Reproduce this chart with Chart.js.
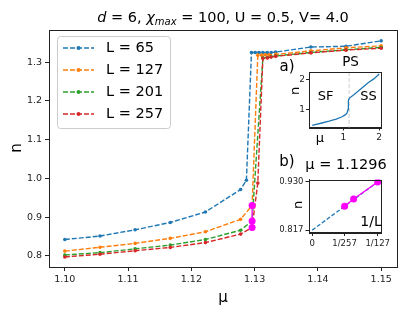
<!DOCTYPE html>
<html>
<head>
<meta charset="utf-8">
<script src="https://cdn.jsdelivr.net/npm/chart.js@4.4.0/dist/chart.umd.min.js"></script>
<style>
  body { margin: 0; background: #fff; }
  #wrap { position: relative; width: 407px; height: 312px; }
  canvas { position: absolute; }
</style>
</head>
<body>
<div id="wrap">
  <canvas id="mainChart" width="407" height="312" style="left:0;top:0"></canvas>
  <canvas id="insetA" width="115" height="90" style="left:280px;top:60px"></canvas>
  <canvas id="insetB" width="115" height="80" style="left:280px;top:170px"></canvas>
</div>
<script>
const FONT = "'DejaVu Sans', sans-serif";
const INK = "#222222";

// main panel: n(mu) for each system size
const mu65 = [1.1, 1.10556, 1.11111, 1.11667, 1.12222, 1.12778, 1.1287, 1.1295, 1.1301, 1.1307, 1.1313, 1.1320, 1.1326, 1.13333, 1.13889, 1.14444, 1.15];
const n65 = [0.842, 0.851, 0.867, 0.886, 0.913, 0.971, 0.995, 1.325, 1.325, 1.325, 1.325, 1.325, 1.325, 1.326, 1.339, 1.341, 1.355];

const mu127 = [1.1, 1.10556, 1.11111, 1.11667, 1.12222, 1.12778, 1.1296, 1.1305, 1.1311, 1.1317, 1.1323, 1.13333, 1.13889, 1.14444, 1.15];
const n127 = [0.812, 0.822, 0.832, 0.845, 0.862, 0.894, 0.930, 1.318, 1.318, 1.319, 1.319, 1.320, 1.329, 1.337, 1.342];

const mu201 = [1.1, 1.10556, 1.11111, 1.11667, 1.12222, 1.12778, 1.1296, 1.1313, 1.1320, 1.1326, 1.13333, 1.13889, 1.14444, 1.15];
const n201 = [0.802, 0.808, 0.818, 0.8275, 0.842, 0.866, 0.890, 1.311, 1.312, 1.314, 1.316, 1.325, 1.332, 1.338];

const mu257 = [1.1, 1.10556, 1.11111, 1.11667, 1.12222, 1.12778, 1.1296, 1.1305, 1.1313, 1.1320, 1.1326, 1.13333, 1.13889, 1.14444, 1.15];
const n257 = [0.797, 0.804, 0.813, 0.8216, 0.834, 0.856, 0.873, 0.988, 1.310, 1.311, 1.313, 1.315, 1.324, 1.331, 1.336];

// points used for the extrapolation (L = 257, 201, 127)
const muPeak = [1.1296, 1.1296, 1.1296];
const nPeak = [0.873, 0.890, 0.930];
const invL = [1 / 257, 1 / 201, 1 / 127];

const muTicks = [1.10, 1.11, 1.12, 1.13, 1.14, 1.15];
const nTicks = [0.8, 0.9, 1.0, 1.1, 1.2, 1.3];

// inset a) overall curve
const muPhase = [0.13, 0.4, 0.6, 0.8, 0.95, 1.05, 1.1, 1.13, 1.14, 1.17, 1.3, 1.5, 1.7, 1.85, 2.0];
const nPhase = [0.47, 0.55, 0.61, 0.68, 0.75, 0.82, 0.88, 1.0, 1.3, 1.38, 1.5, 1.7, 1.9, 2.02, 2.18];
const muPS = 1.16;

// inset b) 1/L fit
const fitX = [0, 1 / 127];
const fitN = [0.817, 0.930];
const invLTicks = [0, 1 / 257, 1 / 127];
const invLLabels = ["0", "1/257", "1/127"];
const nFitTicks = [0.817, 0.930];

const series = [
  { label: "L = 65", color: "#1f77b4", mu: mu65, n: n65 },
  { label: "L = 127", color: "#ff7f0e", mu: mu127, n: n127 },
  { label: "L = 201", color: "#2ca02c", mu: mu201, n: n201 },
  { label: "L = 257", color: "#d62728", mu: mu257, n: n257 }
];

const pts = (xs, ys) => xs.map((x, i) => ({ x: x, y: ys[i] }));
const fixTicks = (values) => (scale) => { scale.ticks = values.map((v) => ({ value: v })); };

const text = (ctx, t, x, y, font, align, rot) => {
  ctx.save();
  ctx.font = font;
  ctx.fillStyle = "#000";
  ctx.textAlign = align || "center";
  ctx.textBaseline = "middle";
  ctx.translate(x, y);
  if (rot) ctx.rotate(rot);
  ctx.fillText(t, 0, 0);
  ctx.restore();
};

const frame = {
  id: "frame",
  beforeDraw(chart) {
    const a = chart.chartArea;
    chart.ctx.save();
    chart.ctx.fillStyle = "#fff";
    chart.ctx.fillRect(a.left, a.top, a.right - a.left, a.bottom - a.top);
    chart.ctx.restore();
  },
  afterDraw(chart) {
    const a = chart.chartArea;
    const ctx = chart.ctx;
    ctx.save();
    ctx.strokeStyle = INK;
    ctx.lineWidth = 1;
    ctx.strokeRect(Math.round(a.left) + 0.5, Math.round(a.top) + 0.5, Math.round(a.right - a.left), Math.round(a.bottom - a.top));
    ctx.restore();
  }
};

const axisOpts = (min, max, ticks, fmt, size, tickLen, pad, fontSize) => ({
  type: "linear",
  min: min,
  max: max,
  afterBuildTicks: fixTicks(ticks),
  afterFit: size,
  grid: { drawOnChartArea: false, tickLength: tickLen, color: INK },
  border: { color: INK },
  ticks: { padding: pad, color: INK, autoSkip: false, maxRotation: 0, font: { family: FONT, size: fontSize }, callback: fmt }
});

const mainText = {
  id: "mainText",
  afterDraw(chart) {
    const ctx = chart.ctx;
    // title
    const parts = [
      { t: "d", f: "italic 14.5px " + FONT, dy: 0 },
      { t: " = 6, ", f: "14.5px " + FONT, dy: 0 },
      { t: "χ", f: "italic 14.5px " + FONT, dy: 0 },
      { t: "max", f: "italic 10px " + FONT, dy: 3 },
      { t: " = 100, U = 0.5, V= 4.0", f: "14.5px " + FONT, dy: 0 }
    ];
    let w = 0;
    parts.forEach((p) => { ctx.font = p.f; p.w = ctx.measureText(p.t).width; w += p.w; });
    let x = 223 - w / 2;
    ctx.save();
    ctx.fillStyle = "#000";
    ctx.textBaseline = "alphabetic";
    parts.forEach((p) => { ctx.font = p.f; ctx.fillText(p.t, x, 22 + p.dy); x += p.w; });
    ctx.restore();

    text(ctx, "μ", 223, 298, "15px " + FONT);
    text(ctx, "n", 17, 148, "15px " + FONT, "center", -Math.PI / 2);

    // legend
    ctx.save();
    ctx.fillStyle = "rgba(255,255,255,0.8)";
    ctx.strokeStyle = "#cccccc";
    ctx.lineWidth = 1;
    ctx.beginPath();
    ctx.roundRect(57.5, 36.5, 113, 92, 3);
    ctx.fill();
    ctx.stroke();
    series.forEach((s, i) => {
      const y = 48 + i * 22;
      ctx.strokeStyle = s.color;
      ctx.lineWidth = 1.4;
      ctx.setLineDash([5, 2]);
      ctx.beginPath();
      ctx.moveTo(63, y);
      ctx.lineTo(94, y);
      ctx.stroke();
      ctx.setLineDash([]);
      ctx.fillStyle = s.color;
      ctx.beginPath();
      ctx.arc(78.5, y, 2, 0, Math.PI * 2);
      ctx.fill();
      text(ctx, s.label, 106, y, "14.5px " + FONT, "left");
    });
    ctx.restore();

    text(ctx, "a)", 287, 67.5, "15px " + FONT);
    text(ctx, "PS", 350.5, 62, "13.5px " + FONT);
    text(ctx, "b)", 287, 162.5, "15px " + FONT);
    text(ctx, "μ = 1.1296", 346, 165.5, "14.5px " + FONT);
  }
};

const lineSet = (s, i) => ({
  label: s.label,
  data: pts(s.mu, s.n),
  showLine: true,
  borderColor: s.color,
  backgroundColor: s.color,
  pointBackgroundColor: s.color,
  borderWidth: 1.4,
  borderDash: [5, 2],
  pointRadius: 1.8,
  pointBorderWidth: 0,
  order: 4 - i
});

new Chart(document.getElementById("mainChart"), {
  type: "scatter",
  data: {
    datasets: series.map(lineSet).concat([{
      label: "peak",
      data: pts(muPeak, nPeak),
      showLine: true,
      borderColor: "#ff00ff",
      backgroundColor: "#ff00ff",
      pointBackgroundColor: "#ff00ff",
      borderWidth: 1.3,
      pointRadius: 3.5,
      pointBorderWidth: 0,
      order: -1
    }])
  },
  options: {
    responsive: false,
    animation: false,
    layout: { padding: { left: 0, top: 30, right: 10, bottom: 0 } },
    plugins: { legend: { display: false }, tooltip: { enabled: false } },
    scales: {
      x: axisOpts(1.0975, 1.1525, muTicks, (v) => v.toFixed(2), (s) => { s.height = 45; }, 4, 3, 9.5),
      y: axisOpts(0.771, 1.383, nTicks, (v) => v.toFixed(1), (s) => { s.width = 49; }, 4, 3, 9.5)
    }
  },
  plugins: [frame, mainText]
});

// inset a)
new Chart(document.getElementById("insetA"), {
  type: "scatter",
  data: {
    datasets: [{
      data: pts(muPhase, nPhase),
      showLine: true,
      borderColor: "#1f77b4",
      borderWidth: 1.3,
      pointRadius: 0
    }]
  },
  options: {
    responsive: false,
    animation: false,
    layout: { padding: { left: 0, top: 12, right: 14, bottom: 0 } },
    plugins: { legend: { display: false }, tooltip: { enabled: false } },
    scales: {
      x: axisOpts(0.04, 2.05, [1, 2], (v) => String(v), (s) => { s.height = 22.5; }, 3, 2, 9),
      y: axisOpts(0.4, 2.25, [1, 2], (v) => String(v), (s) => { s.width = 29; }, 3, 1, 9)
    }
  },
  plugins: [frame, {
    id: "insetAText",
    beforeDatasetsDraw(chart) {
      const ctx = chart.ctx;
      const a = chart.chartArea;
      const px = chart.scales.x.getPixelForValue(muPS);
      ctx.save();
      ctx.strokeStyle = "#cccccc";
      ctx.lineWidth = 1;
      ctx.setLineDash([4, 2]);
      ctx.beginPath();
      ctx.moveTo(px, a.top);
      ctx.lineTo(px, a.bottom);
      ctx.stroke();
      ctx.restore();
    },
    afterDraw(chart) {
      const ctx = chart.ctx;
      text(ctx, "SF", 325.5 - 280, 96.5 - 60, "13px " + FONT);
      text(ctx, "SS", 368.5 - 280, 96.5 - 60, "13px " + FONT);
      text(ctx, "n", 296 - 280, 91 - 60, "13px " + FONT, "center", -Math.PI / 2);
      text(ctx, "μ", 320 - 280, 139 - 60, "13px " + FONT);
    }
  }]
});

// inset b)
new Chart(document.getElementById("insetB"), {
  type: "scatter",
  data: {
    datasets: [{
      data: pts(fitX, fitN),
      showLine: true,
      borderColor: "#1f77b4",
      borderWidth: 1.3,
      borderDash: [4, 2],
      pointRadius: 0,
      order: 1
    }, {
      data: pts(invL, nPeak),
      showLine: true,
      borderColor: "#ff00ff",
      backgroundColor: "#ff00ff",
      pointBackgroundColor: "#ff00ff",
      borderWidth: 1.3,
      pointRadius: 3.5,
      pointBorderWidth: 0,
      clip: 0,
      order: 0
    }]
  },
  options: {
    responsive: false,
    animation: false,
    layout: { padding: { left: 0, top: 9.5, right: 14, bottom: 0 } },
    plugins: { legend: { display: false }, tooltip: { enabled: false } },
    scales: {
      x: axisOpts(-0.00039, 0.00827, invLTicks, (v, i) => invLLabels[i], (s) => { s.height = 17.5; }, 3.5, 3, 8.5),
      y: axisOpts(0.8114, 0.9357, nFitTicks, (v) => v.toFixed(3), (s) => { s.width = 29; }, 3.5, 2, 8.5)
    }
  },
  plugins: [frame, {
    id: "insetBText",
    afterDraw(chart) {
      const ctx = chart.ctx;
      text(ctx, "1/L", 371 - 280, 222 - 170, "14px " + FONT);
      text(ctx, "n", 298.5 - 280, 205 - 170, "13px " + FONT, "center", -Math.PI / 2);
    }
  }]
});
</script>
</body>
</html>
